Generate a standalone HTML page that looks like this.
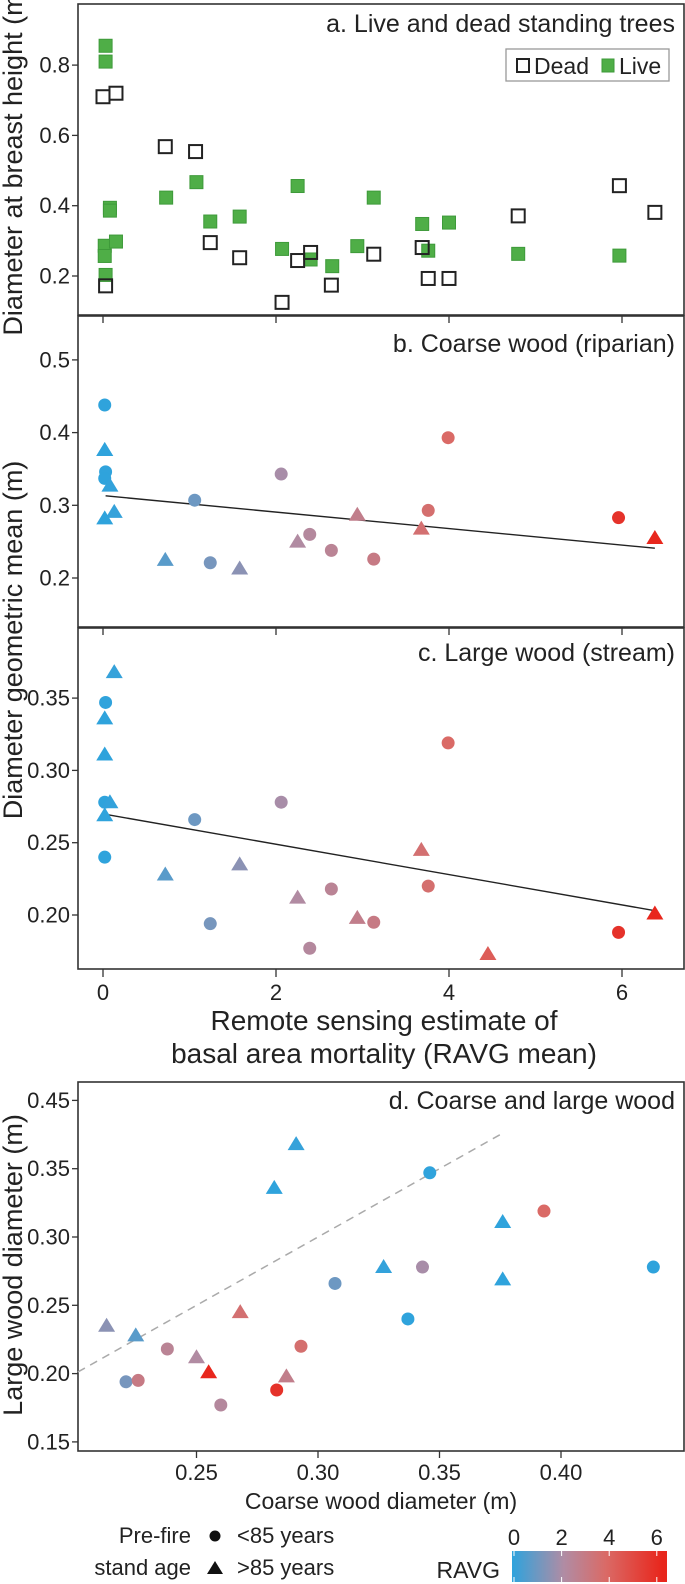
<!DOCTYPE html>
<html><head><meta charset="utf-8">
<style>
html,body{margin:0;padding:0;background:#fff;}
svg{display:block;font-family:"Liberation Sans Narrow","Liberation Sans",sans-serif;}
</style></head>
<body>
<svg id="fig" width="685" height="1584" viewBox="0 0 685 1584" xmlns="http://www.w3.org/2000/svg">
  <g id="frames"></g>
</svg>
<script>
// ---- Data ----
const deadRavg = [0.00,0.15,0.72,1.07,1.24,1.58,2.07,2.25,2.40,2.64,3.13,3.69,3.76,4.00,4.80,5.97,6.38,0.03];
const deadDbh  = [0.71,0.72,0.568,0.554,0.295,0.252,0.125,0.244,0.267,0.174,0.262,0.281,0.193,0.193,0.371,0.457,0.381,0.172];
const liveRavg = [0.03,0.03,0.08,0.08,0.02,0.02,0.15,0.03,0.73,1.08,1.24,1.58,2.07,2.25,2.40,2.65,2.94,3.13,3.69,3.76,4.00,4.80,5.97];
const liveDbh  = [0.855,0.81,0.394,0.386,0.286,0.257,0.298,0.203,0.423,0.467,0.355,0.369,0.277,0.456,0.247,0.228,0.285,0.423,0.348,0.272,0.352,0.263,0.258];
// sites: RAVG, shape (c=<85 yrs, t=>85 yrs), coarse wood (b), large wood (c)
const siteRavg   = [0.02,0.02,0.02,0.03,0.02,0.08,0.13,0.02,0.72,1.06,1.24,1.58,2.06,2.25,2.39,2.64,2.94,3.13,3.68,3.76,3.99,5.96,6.38,4.45];
const siteShape  = ['c','t','t','c','c','t','t','t','t','c','c','t','c','t','c','c','t','c','t','c','c','c','t','t'];
const siteCoarse = [0.438,0.376,0.376,0.346,0.337,0.327,0.291,0.282,0.225,0.307,0.221,0.213,0.343,0.250,0.260,0.238,0.287,0.226,0.268,0.293,0.393,0.283,0.255,null];
const siteLarge  = [0.278,0.311,0.269,0.347,0.240,0.278,0.368,0.336,0.228,0.266,0.194,0.235,0.278,0.212,0.177,0.218,0.198,0.195,0.245,0.220,0.319,0.188,0.201,0.173];
const fitB = [0.03,0.313,6.38,0.241];
const fitC = [0.02,0.2697,6.38,0.203];
const xTicksRavg = [0,2,4,6];
const yTicksA = [0.2,0.4,0.6,0.8];
const yTicksB = [0.2,0.3,0.4,0.5];
const yTicksC = [0.20,0.25,0.30,0.35];
const yTicksCLabels = ["0.20","0.25","0.30","0.35"];
const xTicksD = [0.25,0.30,0.35,0.40];
const yTicksD = [0.15,0.20,0.25,0.30,0.35,0.40];
const yTicksDLabels = ["0.15","0.20","0.25","0.30","0.35","0.45"];
const ravgLegendTicks = [0,2,4,6];

// ---- Scales ----
const xR = v => 103 + v*86.5;
const yA = v => 276 - (v-0.2)*351.5;
const yB = v => 578 - (v-0.2)*727;
const yC = v => 915 - (v-0.2)*1446;
const xD = v => 196.5 + (v-0.25)*2430;
const yD = v => 1373.6 - (v-0.2)*1366;

const stops=[[0,[46,163,221]],[2.2,[176,140,164]],[4,[218,106,102]],[6.4,[232,38,28]]];
function col(v){
  if(v<=stops[0][0]) return 'rgb('+stops[0][1]+')';
  for(let i=1;i<stops.length;i++){
    if(v<=stops[i][0]){const a=stops[i-1],b=stops[i],t=(v-a[0])/(b[0]-a[0]);
      return 'rgb('+a[1].map((c,k)=>Math.round(c+(b[1][k]-c)*t)).join(',')+')';}
  }
  return 'rgb('+stops[stops.length-1][1]+')';
}

const svg=document.getElementById('fig');
const NS='http://www.w3.org/2000/svg';
function mk(tag,attrs,parent){const e=document.createElementNS(NS,tag);for(const k in attrs)e.setAttribute(k,attrs[k]);(parent||svg).appendChild(e);return e;}
function txt(x,y,s,size,anchor,parent){const t=mk('text',{x:x,y:y,'font-size':size,'text-anchor':anchor||'start',fill:'#222'},parent);t.textContent=s;return t;}
function marker(shape,x,y,fill,g){
  if(shape==='c') return mk('circle',{cx:x,cy:y,r:6.5,fill:fill},g);
  return mk('polygon',{points:(x)+','+(y-8)+' '+(x-8.5)+','+(y+6)+' '+(x+8.5)+','+(y+6),fill:fill},g);
}

// ---- Frames ----
const panels=[['panel-a',4,315],['panel-b',316,627],['panel-c',628,969],['panel-d',1082,1451]];
panels.forEach(p=>{
  const r=mk('rect',{x:78,y:p[1],width:606,height:p[2]-p[1],fill:'none',stroke:'#333','stroke-width':1.6});
  
  
});

// shared x ticks for a,b,c
[[316,323],[628,635],[969,977]].forEach(tk=>{
  xTicksRavg.forEach(v=>{mk('line',{x1:xR(v),x2:xR(v),y1:tk[0],y2:tk[1],stroke:'#333','stroke-width':1.3});});
});
const xtl=mk('g',{});


xTicksRavg.forEach(v=>txt(xR(v),1000,String(v),22,'middle',xtl));

function yAxis(ticks,labels,scale,name){
  const g=mk('g',{});
  
  
  ticks.forEach((v,i)=>{
    mk('line',{x1:72,x2:78,y1:scale(v),y2:scale(v),stroke:'#333','stroke-width':1.3},g);
    txt(70,scale(v)+7.5,labels[i],22,'end',g);
  });
}
yAxis(yTicksA,["0.2","0.4","0.6","0.8"],yA,'y-axis-ticks-a');
yAxis(yTicksB,["0.2","0.3","0.4","0.5"],yB,'y-axis-ticks-b');
yAxis(yTicksC,yTicksCLabels,yC,'y-axis-ticks-c');
yAxis(yTicksD,yTicksDLabels,yD,'y-axis-ticks-d');

// ---- Panel a ----
const ga=mk('g',{});


liveRavg.forEach((v,i)=>{
  const r=mk('rect',{x:xR(v)-6.5,y:yA(liveDbh[i])-6.5,width:13,height:13,fill:'#4fae47',stroke:'#3e9a3a','stroke-width':1},ga);
  
  
});
deadRavg.forEach((v,i)=>{
  const r=mk('rect',{x:xR(v)-6.5,y:yA(deadDbh[i])-6.5,width:13,height:13,fill:'none',stroke:'#222','stroke-width':2},ga);
  
  
});
txt(675,32,'a. Live and dead standing trees',25,'end');
const lg=mk('g',{});


mk('rect',{x:506,y:49,width:163,height:32,fill:'#fff',stroke:'#999','stroke-width':1.3},lg);
mk('rect',{x:517,y:59,width:12,height:13,fill:'none',stroke:'#222','stroke-width':2},lg);
txt(534,74,'Dead',23,'start',lg);
mk('rect',{x:602,y:59,width:12,height:13,fill:'#4fae47',stroke:'#3e9a3a'},lg);
txt(619,74,'Live',23,'start',lg);

// ---- Panel b ----
const gb=mk('g',{});


mk('line',{x1:xR(fitB[0]),y1:yB(fitB[1]),x2:xR(fitB[2]),y2:yB(fitB[3]),stroke:'#222','stroke-width':1.4},gb);
siteRavg.forEach((v,i)=>{ if(siteCoarse[i]===null) return;
  const m=marker(siteShape[i],xR(v),yB(siteCoarse[i]),col(v),gb);
  
  
});
txt(675,352,'b. Coarse wood (riparian)',25,'end');

// ---- Panel c ----
const gc=mk('g',{});


mk('line',{x1:xR(fitC[0]),y1:yC(fitC[1]),x2:xR(fitC[2]),y2:yC(fitC[3]),stroke:'#222','stroke-width':1.4},gc);
siteRavg.forEach((v,i)=>{
  const m=marker(siteShape[i],xR(v),yC(siteLarge[i]),col(v),gc);
  
  
});
txt(675,661,'c. Large wood (stream)',25,'end');

// ---- Panel d ----
const gd=mk('g',{});


mk('line',{x1:xD(0.2012),y1:yD(0.2012),x2:xD(0.376),y2:yD(0.376),stroke:'#aaa','stroke-width':1.5,'stroke-dasharray':'8,6'},gd);
siteRavg.forEach((v,i)=>{ if(siteCoarse[i]===null) return;
  const m=marker(siteShape[i],xD(siteCoarse[i]),yD(siteLarge[i]),col(v),gd);
  
  
});
txt(675,1109,'d. Coarse and large wood',25,'end');
const xtd=mk('g',{});


xTicksD.forEach(v=>{
  mk('line',{x1:xD(v),x2:xD(v),y1:1451,y2:1458,stroke:'#333','stroke-width':1.3},xtd);
  txt(xD(v),1480,v.toFixed(2),22,'middle',xtd);
});

// ---- Axis titles ----
function vt(cx,cy,s,name,size){const t=txt(0,0,s,size,'middle');t.setAttribute('transform','translate('+cx+','+cy+') rotate(-90)');}
vt(22,160,'Diameter at breast height (m)','y-axis-title-a',27);
vt(22,640,'Diameter geometric mean (m)','y-axis-title-bc',27);
vt(22,1265,'Large  wood diameter (m)','y-axis-title-d',27);
const xt1=txt(384,1030,'Remote sensing estimate of',28,'middle');

const xt2=txt(384,1063,'basal area mortality (RAVG mean)',28,'middle');

const xt3=txt(381,1509,'Coarse wood diameter (m)',23,'middle');


// ---- Bottom legends ----
const sl=mk('g',{});


txt(191,1543,'Pre-fire',22,'end',sl);
mk('circle',{cx:215,cy:1536,r:5.5,fill:'#111'},sl);
txt(237,1543,'<85 years',22,'start',sl);
txt(191,1575,'stand age',22,'end',sl);
mk('polygon',{points:'215,1561 207,1574 223,1574',fill:'#111'},sl);
txt(237,1575,'>85 years',22,'start',sl);

const cb=mk('g',{});


const defs=mk('defs',{});
const lgd=mk('linearGradient',{id:'rg',x1:0,x2:1,y1:0,y2:0},defs);
stops.forEach(s=>mk('stop',{offset:(s[0]/6.6),'stop-color':col(s[0])},lgd));
mk('stop',{offset:1,'stop-color':col(6.6)},lgd);
mk('rect',{x:512,y:1551,width:155,height:31,fill:'url(#rg)'},cb);
const xCb = v => 514 + v*23.8;
ravgLegendTicks.forEach(v=>{
  mk('line',{x1:xCb(v),x2:xCb(v),y1:1551,y2:1556,stroke:'#fff','stroke-width':1},cb);
  mk('line',{x1:xCb(v),x2:xCb(v),y1:1577,y2:1582,stroke:'#fff','stroke-width':1},cb);
  txt(xCb(v),1545,String(v),22,'middle',cb);
});
txt(500,1578,'RAVG',23,'end',cb);
</script>
</body></html>
